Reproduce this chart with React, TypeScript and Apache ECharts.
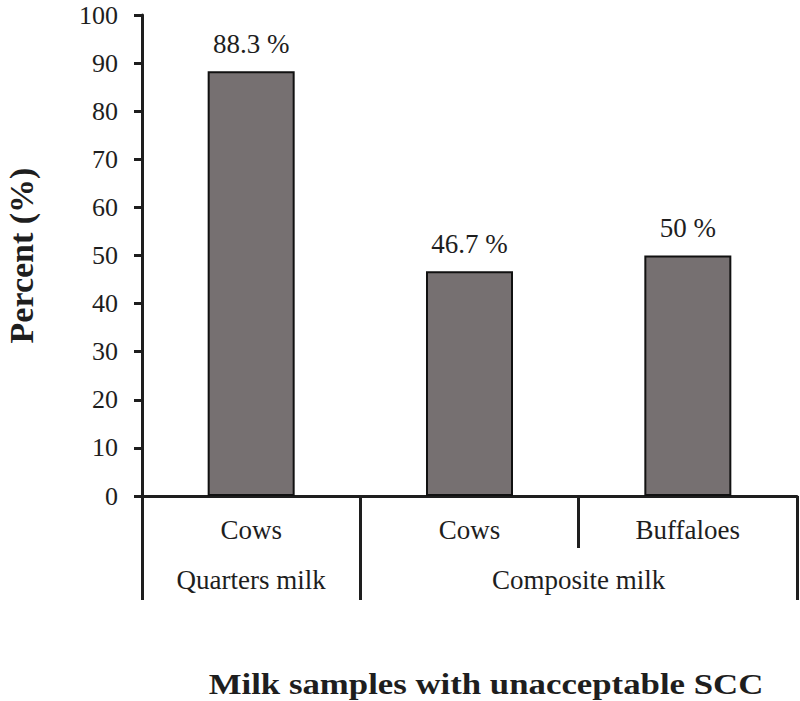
import React, { useEffect, useRef } from "react";
import * as echarts from "echarts";

const categories = ["Cows", "Cows", "Buffaloes"];
const groupLabels = ["Quarters milk", "Composite milk"];
const groupLabelPositions = [0.5, 2];
const values = [88.3, 46.7, 50];
const yTicks = [0, 100, 10];
const xTitle = "Milk samples with unacceptable SCC";

const FONT = "'Liberation Serif', 'Times New Roman', serif";
const INK = "#1e1e1e";

export default function App() {
  const ref = useRef<HTMLDivElement>(null);
  useEffect(() => {
    document.body.style.margin = "0";
    const chart = echarts.init(ref.current!, null, { renderer: "svg" });
    chart.setOption({
      animation: false,
      grid: { left: 142, right: 3, top: 15, bottom: 205, containLabel: false, outerBoundsMode: "none" },
      yAxis: {
        type: "value",
        min: yTicks[0],
        max: yTicks[1],
        interval: yTicks[2],
        name: "Percent (%)",
        nameLocation: "middle",
        nameGap: 104,
        nameTextStyle: { fontFamily: FONT, fontSize: 34, fontWeight: "bold", color: INK },
        axisLine: { show: true, lineStyle: { color: INK, width: 3 } },
        axisTick: { show: true, inside: false, length: 8, lineStyle: { color: INK, width: 3 } },
        axisLabel: { fontFamily: FONT, fontSize: 26, color: INK, margin: 24 },
        splitLine: { show: false },
      },
      xAxis: [
        {
          type: "category",
          data: categories,
          position: "bottom",
          axisLine: { show: true, lineStyle: { color: INK, width: 3 } },
          axisTick: { show: true, inside: false, interval: 0, length: 52, lineStyle: { color: INK, width: 3 } },
          axisLabel: { fontFamily: FONT, fontSize: 27, color: INK, margin: 20 },
        },
        {
          type: "category",
          data: categories,
          position: "bottom",
          axisLine: { show: false },
          axisTick: {
            show: true,
            inside: false,
            interval: (i: number) => i !== 2,
            length: 104,
            lineStyle: { color: INK, width: 3 },
          },
          axisLabel: { show: false },
        },
        {
          type: "value",
          min: 0,
          max: 3,
          interval: 0.5,
          position: "bottom",
          axisLine: { show: false },
          axisTick: { show: false },
          splitLine: { show: false },
          axisLabel: {
            fontFamily: FONT,
            fontSize: 27,
            color: INK,
            margin: 70,
            showMinLabel: false,
            showMaxLabel: false,
            formatter: (v: number) => {
              const k = groupLabelPositions.indexOf(v);
              return k >= 0 ? groupLabels[k] : "";
            },
          },
        },
      ],
      graphic: [
        {
          type: "text",
          x: 486,
          y: 684,
          scaleX: 1.2,
          style: {
            text: xTitle,
            fontFamily: FONT,
            fontSize: 29,
            fontWeight: "bold",
            fill: INK,
            textAlign: "center",
            textVerticalAlign: "middle",
          },
        },
      ],
      series: [
        {
          type: "bar",
          xAxisIndex: 0,
          data: values,
          barWidth: 87,
          itemStyle: { color: "#767071", borderColor: "#111", borderWidth: 2 },
          label: {
            show: true,
            position: "top",
            distance: 14,
            fontFamily: FONT,
            fontSize: 27,
            color: INK,
            formatter: (p: any) => `${p.value} %`,
          },
        },
      ],
    });
    return () => chart.dispose();
  }, []);
  return <div ref={ref} style={{ width: 800, height: 701 }} />;
}
